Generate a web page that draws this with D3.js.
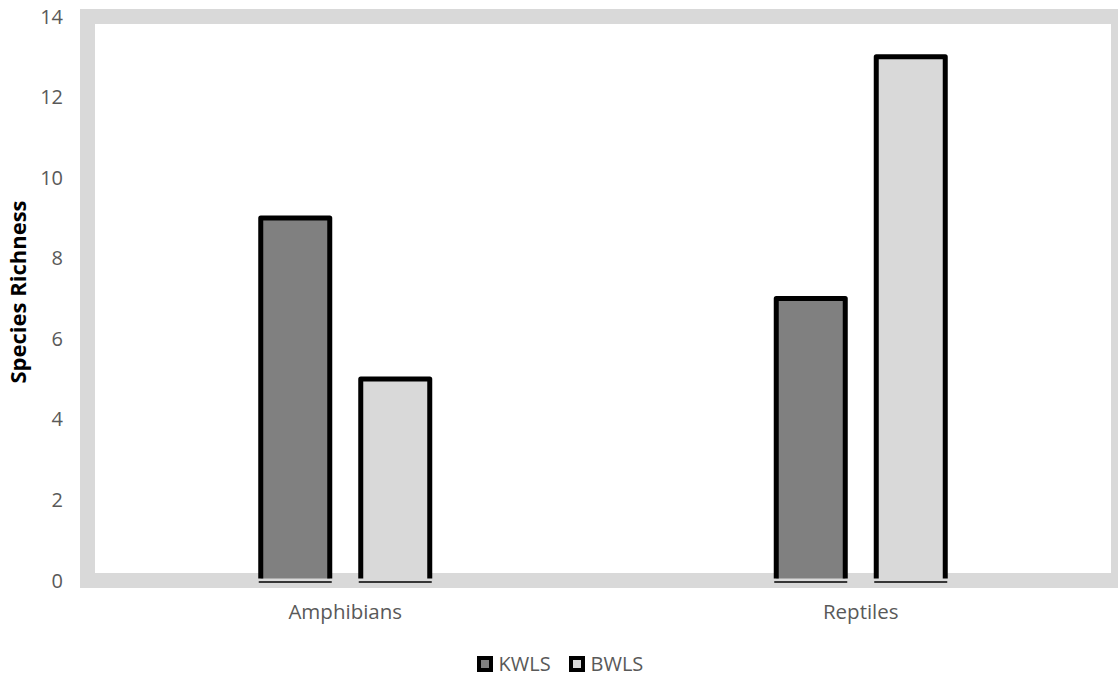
<!DOCTYPE html>
<html>
<head>
<meta charset="utf-8">
<script src="https://cdn.jsdelivr.net/npm/d3@7"></script>
<style>
  html, body { margin: 0; padding: 0; background: #fff; }
  svg { display: block; font-family: "Open Sans", "Noto Sans", sans-serif; }
</style>
</head>
<body>
<svg id="chart" width="1118" height="680"></svg>
<script>
// Species richness by taxon for two sites
const categories = ["Amphibians", "Reptiles"];
const seriesNames = ["KWLS", "BWLS"];
const kwlsValues = [9, 7];
const bwlsValues = [5, 13];
const yTicks = [0, 2, 4, 6, 8, 10, 12, 14];
const seriesColors = ["#808080", "#d9d9d9"];

const svg = d3.select("#chart");
const W = 1118, H = 680;

const plot = { left: 87.5, right: 1118.5, top: 16.5, bottom: 580.5 };

const x = d3.scaleBand().domain(categories).range([plot.left, plot.right]).padding(0);
const xInner = d3.scaleBand().domain(seriesNames).range([-84.5, 84.5]).paddingInner(0.31).paddingOuter(0);
const y = d3.scaleLinear().domain([0, 14]).range([plot.bottom, plot.top]);

const valuesBySeries = { KWLS: kwlsValues, BWLS: bwlsValues };
const data = [];
categories.forEach((c, i) => {
  seriesNames.forEach((s, j) => data.push({ cat: c, series: s, value: valuesBySeries[s][i], color: seriesColors[j] }));
});

// clip so the frame runs off the right edge
svg.append("defs").append("clipPath").attr("id", "page")
  .append("rect").attr("x", 0).attr("y", 0).attr("width", W).attr("height", H);

// plot area frame
svg.append("rect")
  .attr("clip-path", "url(#page)")
  .attr("x", plot.left).attr("y", plot.top)
  .attr("width", plot.right - plot.left).attr("height", plot.bottom - plot.top)
  .attr("fill", "#fff").attr("stroke", "#d9d9d9").attr("stroke-width", 15);

// y tick labels
svg.append("g").selectAll("text").data(yTicks).join("text")
  .attr("x", 63).attr("y", d => y(d)).attr("dy", "0.35em")
  .attr("text-anchor", "end").attr("fill", "#595959").attr("font-size", 20)
  .text(d => d);

// bars
const bars = svg.append("g").selectAll("g").data(data).join("g")
  .attr("transform", d => `translate(${x(d.cat) + x.bandwidth() / 2 + xInner(d.series)},0)`);

const bw = xInner.bandwidth();
bars.append("rect")
  .attr("x", 0).attr("y", d => y(d.value))
  .attr("width", bw).attr("height", d => y(0) - 2 - y(d.value))
  .attr("fill", d => d.color);
bars.append("path")
  .attr("d", d => `M0,${y(0) - 2}V${y(d.value)}H${bw}V${y(0) - 2}`)
  .attr("fill", "none").attr("stroke", "#000").attr("stroke-width", 5)
  .attr("stroke-linejoin", "round");
bars.append("line")
  .attr("x1", -2).attr("x2", bw + 2)
  .attr("y1", y(0) + 1.5).attr("y2", y(0) + 1.5)
  .attr("stroke", "#000").attr("stroke-width", 1.5);

// category labels
svg.append("g").selectAll("text").data(categories).join("text")
  .attr("x", d => x(d) + x.bandwidth() / 2).attr("y", 612).attr("dy", "0.35em")
  .attr("text-anchor", "middle").attr("fill", "#595959").attr("font-size", 20.5)
  .text(d => d);

// y axis title
svg.append("text")
  .attr("transform", `translate(18,292) rotate(-90)`)
  .attr("dy", "0.35em")
  .attr("text-anchor", "middle").attr("font-weight", "bold").attr("font-size", 22)
  .attr("fill", "#000")
  .text("Species Richness");

// legend
const legendX = [477, 569];
const lg = svg.append("g").selectAll("g").data(seriesNames).join("g")
  .attr("transform", (d, i) => `translate(${legendX[i]},664)`);
lg.append("rect")
  .attr("x", 2).attr("y", -6).attr("width", 12).attr("height", 12)
  .attr("fill", (d, i) => seriesColors[i]).attr("stroke", "#000").attr("stroke-width", 4);
lg.append("text")
  .attr("x", 21.5).attr("y", 0).attr("dy", "0.35em")
  .attr("fill", "#595959").attr("font-size", 20)
  .text(d => d);
</script>
</body>
</html>
